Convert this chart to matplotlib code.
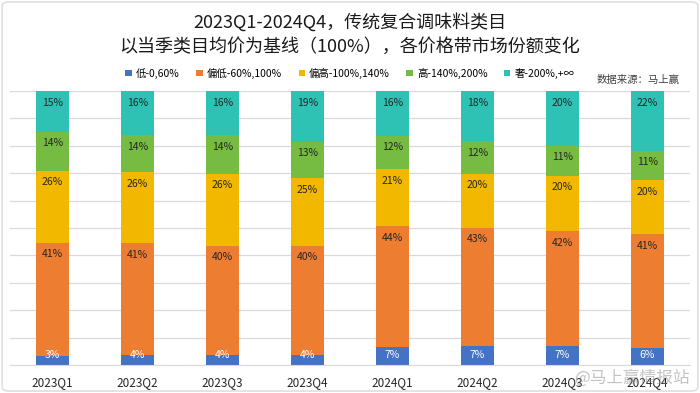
import matplotlib.pyplot as plt
from matplotlib.patches import Rectangle, FancyBboxPatch
import numpy as np

plt.rcParams['font.family'] = ['Noto Sans CJK SC', 'DejaVu Sans']

quarters = ["2023Q1", "2023Q2", "2023Q3", "2023Q4", "2024Q1", "2024Q2", "2024Q3", "2024Q4"]
series_names = ["低-0,60%", "偏低-60%,100%", "偏高-100%,140%", "高-140%,200%", "奢-200%,+∞"]

# shares in %
low = [3.3, 3.6, 3.6, 3.6, 6.7, 6.9, 6.9, 6.2]
mid_low = [41.4, 40.8, 39.9, 40.0, 44.0, 43.2, 42.0, 41.5]
mid_high = [26.2, 26.0, 26.3, 24.7, 20.7, 19.7, 20.2, 19.7]
high = [14.3, 13.5, 14.0, 13.3, 12.2, 11.8, 10.9, 10.8]
luxury = [14.8, 16.1, 16.2, 18.6, 16.4, 18.4, 20.0, 21.8]

labels_low = ["3%", "4%", "4%", "4%", "7%", "7%", "7%", "6%"]
labels_mid_low = ["41%", "41%", "40%", "40%", "44%", "43%", "42%", "41%"]
labels_mid_high = ["26%", "26%", "26%", "25%", "21%", "20%", "20%", "20%"]
labels_high = ["14%", "14%", "14%", "13%", "12%", "12%", "11%", "11%"]
labels_luxury = ["15%", "16%", "16%", "19%", "16%", "18%", "20%", "22%"]

colors = ["#4472C4", "#ED7D31", "#F2B800", "#76BB42", "#2EC2B4"]

fig = plt.figure(figsize=(7, 3.93), dpi=100)
ax = fig.add_axes([10/700, 28/393, 680/700, 274/393])

x = np.arange(len(quarters))
data = [low, mid_low, mid_high, high, luxury]
labs = [labels_low, labels_mid_low, labels_mid_high, labels_high, labels_luxury]

# normalise so each bar fills 100%
tot = np.sum(data, axis=0)
bottom = np.zeros(len(quarters))
for i, vals in enumerate(data):
    v = np.array(vals) / tot * 100
    ax.bar(x, v, 0.39, bottom=bottom, color=colors[i], zorder=2, label=series_names[i])
    tops = bottom + v
    for j in range(len(x)):
        y = max(tops[j] - 4.2, 3.8)
        ax.text(x[j], y, labs[i][j], ha='center', va='center', fontsize=7.5,
                color='white' if i == 0 else '#262626', zorder=3)
    bottom = tops

ax.set_xlim(-0.5, 7.5)
ax.set_ylim(0, 100)
ax.set_yticks(np.arange(0, 101, 10))
ax.set_yticklabels([])
ax.tick_params(axis='y', length=0)
ax.tick_params(axis='x', length=0, pad=8, labelsize=8.5, colors='#262626')
ax.set_xticks(x)
ax.set_xticklabels(quarters)
ax.grid(axis='y', color='#d9d9d9', lw=0.9, zorder=0)
for s in ['top', 'right', 'left']:
    ax.spines[s].set_visible(False)
ax.spines['bottom'].set_color('#d9d9d9')

fig.text(0.5, 1 - 22/393, "2023Q1-2024Q4，传统复合调味料类目", ha='center', va='center',
         fontsize=13, color='#1a1a1a')
fig.text(0.5, 1 - 47/393, "以当季类目均价为基线（100%），各价格带市场份额变化", ha='center', va='center',
         fontsize=13, color='#1a1a1a')

handles, lbls = ax.get_legend_handles_labels()
fig.legend(handles, lbls, loc='center', bbox_to_anchor=(350/700, 1 - 73/393), ncol=5,
           frameon=False, fontsize=7.5, handlelength=0.6, handleheight=0.6,
           handletextpad=0.4, columnspacing=1.6)

fig.text(680/700, 1 - 80/393, "数据来源：马上赢", ha='right', va='center', fontsize=7.5, color='#404040')
fig.text(690/700, 1 - 378/393, "@马上赢情报站", ha='right', va='center', fontsize=12,
         color='#888888', alpha=0.5, zorder=5)

fig.patches.append(FancyBboxPatch((0.003, 0.005), 0.994, 0.99, boxstyle="round,pad=0,rounding_size=0.01",
                                  transform=fig.transFigure, fill=False, edgecolor='#d9d9d9', lw=1))

fig.savefig("out.png", dpi=100)
